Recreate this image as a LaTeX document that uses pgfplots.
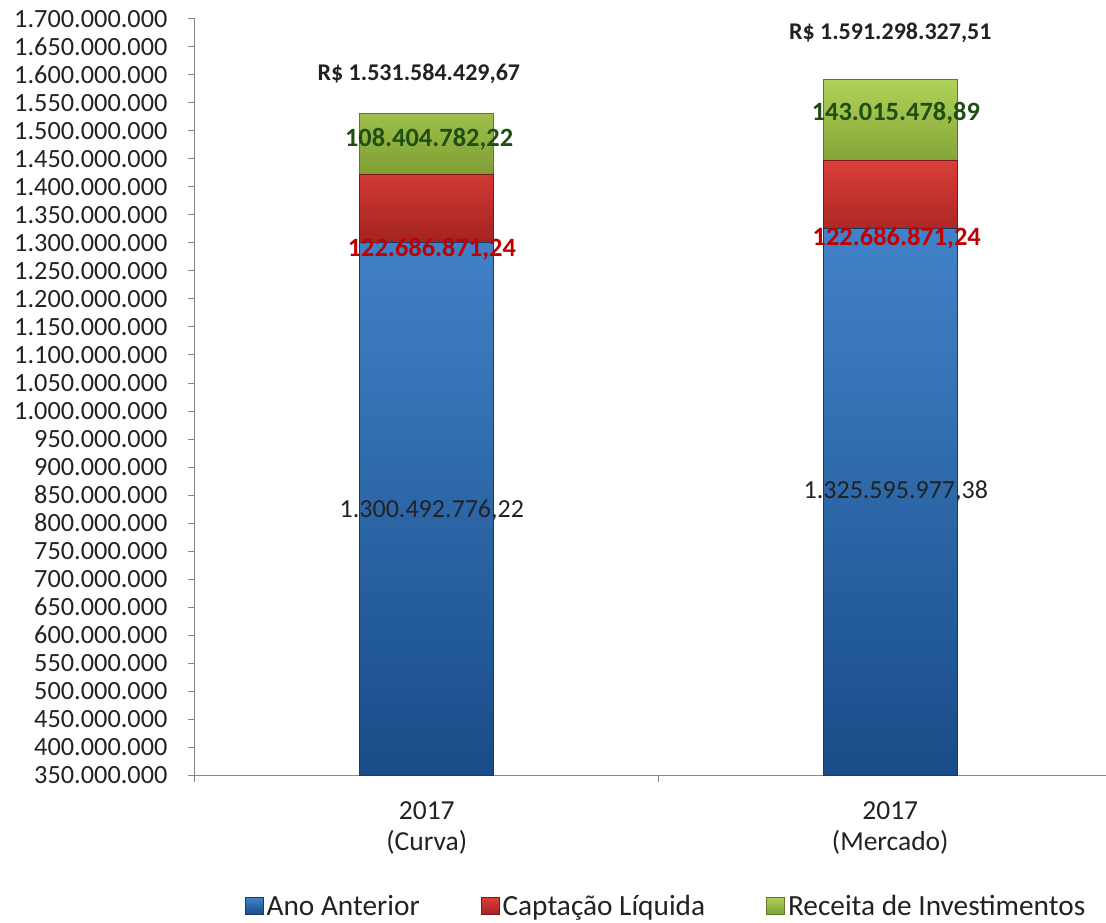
\documentclass[border=0pt]{standalone}
\usepackage{fontspec}
\setmainfont{Carlito}
\usepackage{pgfplots}
\pgfplotsset{compat=1.18}
\definecolor{txt}{HTML}{222222}
\definecolor{axisgray}{HTML}{868686}
\definecolor{blueT}{HTML}{4282C8}
\definecolor{blueB}{HTML}{184C88}
\definecolor{blueD}{HTML}{173B63}
\definecolor{redT}{HTML}{DA3F3A}
\definecolor{redB}{HTML}{A32320}
\definecolor{redD}{HTML}{7A1A18}
\definecolor{greenT}{HTML}{B0D258}
\definecolor{greenB}{HTML}{7E9E33}
\definecolor{greenD}{HTML}{5E7826}
\definecolor{lblred}{HTML}{C00000}
\definecolor{lblgreen}{HTML}{1F4E12}
\begin{document}
\begin{tikzpicture}
\begin{axis}[
  scale only axis, width=911pt, height=756pt,
  xmin=-0.5, xmax=1.4655,
  ymin=350000000, ymax=1700000000,
  ybar stacked, bar width=134pt,
  clip mode=individual,
  axis x line*=bottom, axis y line*=left,
  axis line style={axisgray, line width=1pt},
  every tick/.style={axisgray, line width=1pt},
  tick align=outside, major tick length=7pt,
  ytick distance=50000000,
  scaled y ticks=false,
  yticklabel style={/pgf/number format/fixed, /pgf/number format/precision=0, /pgf/number format/1000 sep={.}, /pgf/number format/assume math mode=true,
    font=\fontsize{26.3}{30}\selectfont, text=txt, xshift=-17pt},
  xtick={-0.5,0.5}, xticklabels={,,},
  extra x ticks={0,1},
  extra x tick labels={{2017\\(Curva)},{2017\\(Mercado)}},
  extra x tick style={major tick length=0pt},
  xticklabel style={align=center, font=\fontsize{27.5}{31}\selectfont, text=txt, yshift=-23pt},
  legend columns=3,
  legend image code/.code={\draw[#1] (0pt,-8.5pt) rectangle (18pt,8.5pt); \coordinate (lgx) at (22pt,0pt);},
  legend style={draw=none, fill=none, at={(0.5176,-0.1733)}, anchor=center,
    font=\fontsize{29.3}{34}\selectfont, text=txt, nodes={inner sep=3pt},
    /tikz/every even column/.append style={column sep=58pt}},
  after end axis/.code={
    \node[font=\fontsize{26}{30}\selectfont, text=txt] at (axis cs:0.011,823000000) {1.300.492.776,22};
    \node[font=\fontsize{26}{30}\selectfont, text=txt] at (axis cs:1.012,857000000) {1.325.595.977,38};
    \node[font=\bfseries\fontsize{26.4}{30}\selectfont, text=lblred] at (axis cs:0.011,1289000000) {122.686.871,24};
    \node[font=\bfseries\fontsize{26.4}{30}\selectfont, text=lblred] at (axis cs:1.014,1309000000) {122.686.871,24};
    \node[font=\bfseries\fontsize{26.4}{30}\selectfont, text=lblgreen] at (axis cs:0.005,1486000000) {108.404.782,22};
    \node[font=\bfseries\fontsize{26.4}{30}\selectfont, text=lblgreen] at (axis cs:1.012,1532000000) {143.015.478,89};
    \node[font=\bfseries\fontsize{24}{30}\selectfont, text=txt] at (axis cs:-0.017,1602000000) {R\$ 1.531.584.429,67};
    \node[font=\bfseries\fontsize{24}{30}\selectfont, text=txt] at (axis cs:1.0,1675000000) {R\$ 1.591.298.327,51};
    \coordinate (sw) at (rel axis cs:0,0);
    \coordinate (ne) at (rel axis cs:1,1);
  },
]
\addplot[draw=blueD, line width=0.8pt, top color=blueT, bottom color=blueB]
  coordinates {(0,1300492776.22) (1,1325595977.38)};
\addlegendentry{Ano Anterior}
\addplot[draw=redD, line width=0.8pt, top color=redT, bottom color=redB]
  coordinates {(0,122686871.24) (1,122686871.24)};
\addlegendentry{Captação Líquida}
\addplot[draw=greenD, line width=0.8pt, top color=greenT, bottom color=greenB]
  coordinates {(0,108404782.22) (1,143015478.89)};
\addlegendentry{Receita de Investimentos}
\end{axis}
\pgfresetboundingbox
\path ([xshift=-195pt,yshift=-147pt]sw) rectangle ([yshift=19pt]ne);
\end{tikzpicture}
\end{document}
